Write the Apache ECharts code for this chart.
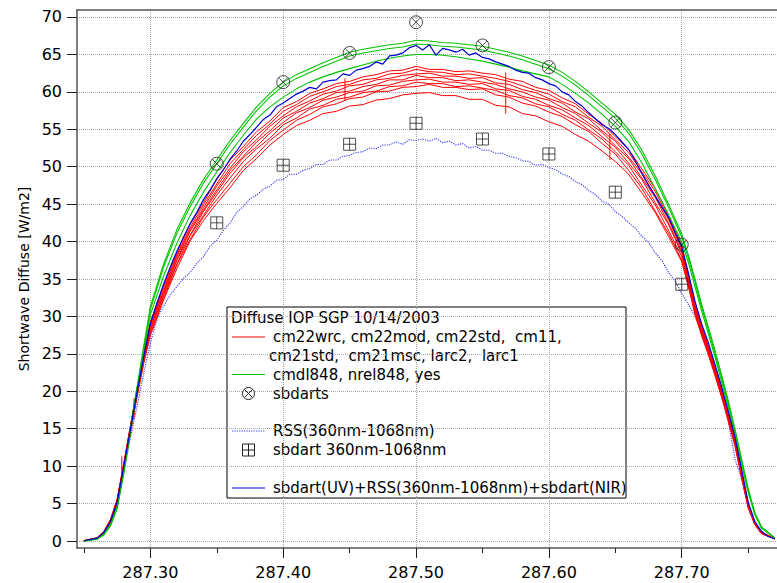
<!DOCTYPE html>
<html><head><meta charset="utf-8">
<script src="https://cdn.jsdelivr.net/npm/echarts@6/dist/echarts.min.js"></script>
<style>html,body{margin:0;padding:0;background:#fff}#c{width:777px;height:583px}</style>
</head><body><div id="c"></div>
<script>
// ---------- DATA ----------
const timesA = [287.25,287.26,287.265,287.27,287.275,287.28,287.285,287.29,287.295,
287.30,287.31,287.32,287.33,287.34,287.35,287.36,287.37,287.38,287.39,
287.40,287.41,287.42,287.43,287.44,287.45,287.46,287.47,287.48,287.49,
287.50,287.51,287.52,287.53,287.54,287.55,287.56,287.57,287.58,287.59,
287.60,287.61,287.62,287.63,287.64,287.65,287.66,287.67,287.68,287.69,287.70,
287.705,287.71,287.715,287.72,287.725,287.73,287.735,287.74,287.745,287.75,287.755,287.76,287.77];

const redNames = ['cm22wrc','cm22mod','cm22std','cm11','cm21std','cm21msc','larc2','larc1'];
const red1 = [0.05,0.45,1.3,2.9,5.6,10.4,15.4,20.4,25.0,
29.3,34.1,38.5,42.3,45.2,48.3,50.9,52.7,54.7,56.1,57.9,58.7,59.8,60.4,61.1,61.4,62.0,62.3,62.8,62.9,63.4,63.0,63.0,62.7,62.8,62.5,62.3,61.7,61.4,60.6,60.2,59.2,58.4,57.0,55.8,54.0,52.3,49.7,47.1,43.5,39.6,
35.4,31.6,28.7,26.1,23.3,20.3,17.0,13.6,9.3,5.0,2.5,1.2,0.3];
const red2 = [0.05,0.42,1.25,2.8,5.5,10.3,15.3,20.3,24.8,
29.0,33.8,38.2,41.9,44.9,47.7,50.4,52.3,54.2,55.7,57.4,58.3,59.4,60.0,60.7,61.0,61.6,61.8,62.4,62.5,63.0,62.7,62.6,62.3,62.4,62.1,61.8,61.4,60.8,60.2,59.7,58.7,58.0,56.6,55.4,53.6,51.9,49.3,46.7,43.2,39.3,
35.2,31.4,28.5,25.9,23.1,20.1,16.9,13.5,9.2,4.9,2.4,1.2,0.3];
const red3 = [0.04,0.40,1.2,2.75,5.4,10.2,15.2,20.1,24.7,
28.8,33.4,38.0,41.6,44.5,47.4,49.8,52.0,53.6,55.4,56.8,58.0,58.8,59.7,60.1,60.8,61.0,61.6,61.8,62.2,62.4,62.5,62.1,62.1,61.8,61.9,61.2,61.0,60.3,59.9,59.1,58.5,57.3,56.4,54.8,53.4,51.3,49.1,46.1,43.0,39.0,
35.0,31.2,28.3,25.7,22.9,19.9,16.7,13.4,9.1,4.8,2.4,1.1,0.3];
const red4 = [0.04,0.38,1.15,2.7,5.3,10.1,15.0,20.0,24.5,
28.5,33.3,37.6,41.4,44.2,46.9,49.5,51.4,53.3,54.8,56.5,57.4,58.5,59.1,59.9,60.1,60.7,61.0,61.6,61.6,62.2,61.9,61.9,61.5,61.6,61.3,61.0,60.4,60.0,59.3,58.9,57.9,57.1,55.8,54.6,52.8,51.1,48.5,45.9,42.5,38.7,
34.8,31.0,28.1,25.6,22.8,19.8,16.6,13.3,9.0,4.8,2.3,1.1,0.3];
const red5 = [0.04,0.36,1.1,2.65,5.2,10.0,14.9,19.8,24.3,
28.3,32.9,37.5,40.9,44.0,46.6,49.1,51.2,52.7,54.5,55.9,57.2,57.9,58.9,59.3,59.9,60.1,60.8,60.9,61.4,61.6,61.7,61.3,61.3,61.0,61.1,60.4,60.2,59.4,59.0,58.2,57.6,56.5,55.5,54.0,52.6,50.5,48.3,45.2,42.3,38.4,
34.6,30.8,27.9,25.4,22.6,19.6,16.5,13.2,8.9,4.7,2.3,1.1,0.3];
const red6 = [0.03,0.34,1.05,2.6,5.1,9.9,14.7,19.6,24.1,
28.0,32.8,37.0,40.8,43.5,46.2,48.5,50.7,52.4,53.8,55.6,56.5,57.7,58.2,59.0,59.3,59.9,60.1,60.7,60.8,61.3,61.1,61.1,60.7,60.8,60.5,60.2,59.5,59.2,58.4,58.0,57.0,56.2,54.9,53.7,52.0,50.2,47.5,44.9,41.5,38.0,
34.4,30.6,27.7,25.2,22.4,19.5,16.3,13.0,8.8,4.6,2.3,1.0,0.3];
const red7 = [0.03,0.32,1.0,2.5,5.0,9.7,14.5,19.4,23.9,
27.7,32.4,36.9,40.3,43.3,45.6,47.8,50.0,51.6,53.5,54.9,56.2,57.0,58.0,58.4,59.1,59.3,60.0,60.1,60.6,60.7,61.0,60.6,60.6,60.3,60.4,59.6,59.3,58.5,58.1,57.3,56.7,55.6,54.7,53.1,51.7,49.5,47.1,44.1,41.1,37.5,
34.1,30.4,27.5,25.0,22.2,19.3,16.2,12.9,8.6,4.5,2.2,1.0,0.3];
const red8 = [0.03,0.30,0.95,2.45,4.9,9.6,14.4,19.2,23.7,
27.4,32.2,36.4,40.1,42.8,45.1,47.2,49.5,51.1,52.9,54.3,55.5,56.2,57.1,57.4,58.1,58.3,58.9,59.1,59.6,59.8,59.9,59.5,59.5,59.0,59.0,58.2,58.0,57.1,56.8,56.0,55.4,54.3,53.4,52.1,50.7,49.0,46.5,43.9,40.7,37.3,
34.0,30.2,27.4,24.9,22.1,19.2,16.0,12.7,8.5,4.4,2.2,1.0,0.3];

const greenNames = ['cmdl848','nrel848','yes'];
const green1 = [0.02,0.3,0.9,2.2,4.6,9.4,15.0,20.6,26.0,
31.3,37.0,41.6,45.2,48.3,50.9,53.5,55.8,58.0,59.8,61.3,62.3,63.1,63.9,64.6,65.3,65.7,66.0,66.3,66.5,66.9,66.8,66.6,66.5,66.3,66.1,65.7,65.3,64.8,64.2,63.6,62.6,61.4,60.0,58.5,57.0,55.0,52.2,48.8,45.0,41.0,
38.2,35.0,31.6,28.6,25.5,22.2,18.8,15.0,11.0,7.0,3.8,1.9,0.4];
const green2 = [0.02,0.28,0.85,2.1,4.5,9.3,14.8,20.3,25.7,
30.9,36.6,41.1,44.7,47.8,50.4,53.0,55.3,57.5,59.3,60.8,61.8,62.6,63.4,64.1,64.8,65.2,65.5,65.8,66.0,66.4,66.3,66.1,66.0,65.8,65.6,65.2,64.8,64.3,63.7,63.1,62.1,60.9,59.5,58.0,56.5,54.5,51.7,48.3,44.6,40.6,
37.8,34.6,31.2,28.2,25.1,21.8,18.4,14.7,10.7,6.8,3.7,1.8,0.4];
const green3 = [0.02,0.25,0.8,2.0,4.3,9.0,14.4,19.9,25.2,
30.2,35.4,39.8,43.5,46.6,49.3,51.9,54.2,56.4,58.0,59.3,60.4,61.3,62.0,62.6,63.1,63.6,64.1,64.5,64.8,65.0,65.0,64.9,64.7,64.4,64.1,63.7,63.3,62.8,62.4,62.0,61.0,59.8,58.5,57.0,55.4,53.4,50.5,47.1,43.6,39.9,
37.2,34.0,30.7,27.7,24.6,21.3,17.9,14.3,10.3,6.5,3.5,1.7,0.4];

const timesFine = [287.25,287.26,287.265,287.27,287.275,287.28,287.285,287.29,287.295,
287.300,287.305,287.310,287.315,287.320,287.325,287.330,287.335,287.340,287.345,
287.350,287.355,287.360,287.365,287.370,287.375,287.380,287.385,287.390,287.395,
287.400,287.405,287.410,287.415,287.420,287.425,287.430,287.435,287.440,287.445,
287.450,287.455,287.460,287.465,287.470,287.475,287.480,287.485,287.490,287.495,
287.500,287.505,287.510,287.515,287.520,287.525,287.530,287.535,287.540,287.545,
287.550,287.555,287.560,287.565,287.570,287.575,287.580,287.585,287.590,287.595,
287.600,287.605,287.610,287.615,287.620,287.625,287.630,287.635,287.640,287.645,
287.650,287.655,287.660,287.665,287.670,287.675,287.680,287.685,287.690,287.695,
287.700,287.705,287.71,287.715,287.72,287.725,287.73,287.735,287.74,287.745,287.75,287.755,287.76,287.765,287.77];

const blueSum = [0.03,0.38,1.15,2.6,5.2,10.0,14.9,19.9,24.6,
29.0,31.8,34.3,36.6,38.7,40.6,42.4,43.9,45.6,46.9,
48.4,49.6,51.0,52.1,53.4,54.3,55.3,56.3,56.9,58.0,
58.5,59.1,59.7,60.1,60.6,60.4,61.3,61.5,61.6,62.4,
62.2,62.9,63.1,63.4,64.0,63.7,64.8,64.9,65.2,65.9,
66.2,65.6,66.3,64.9,65.8,65.6,65.3,65.7,64.9,65.2,
64.6,64.4,64.0,63.7,63.4,62.9,62.6,62.5,61.9,61.6,
61.1,60.8,60.0,59.6,58.7,58.1,57.2,56.4,55.6,55.1,
54.3,53.3,52.3,50.8,49.1,47.5,46.1,44.6,43.3,41.2,
39.3,35.8,32.0,29.0,26.5,23.6,20.6,17.3,13.9,9.6,5.2,2.6,1.3,0.6,0.3];

const rss = [0.02,0.3,0.9,2.2,4.5,9.0,13.8,18.0,22.4,
26.4,29.6,31.4,32.9,34.0,35.1,35.9,37.1,38.0,39.4,
40.2,41.5,42.5,43.9,44.7,45.7,46.2,47.0,47.4,48.2,
48.3,49.0,49.0,49.5,49.8,50.3,50.3,50.9,50.9,51.4,
51.5,51.9,52.0,52.5,52.4,52.9,52.9,53.3,53.0,53.6,
53.5,53.7,53.4,53.8,53.2,53.4,52.9,53.1,52.5,52.7,
52.2,52.2,51.8,51.8,51.4,51.2,50.8,50.7,50.2,50.3,
49.9,49.6,49.0,48.7,48.0,47.6,46.8,46.3,45.4,45.0,
44.0,43.4,42.5,41.8,40.7,39.9,38.5,37.5,35.9,34.7,
33.1,31.6,30.0,27.9,25.8,23.1,19.8,16.0,11.0,8.3,4.5,2.2,1.0,0.6,0.3];

const spikeTimes = [287.2785,287.2877,287.4465,287.5675,287.6459];
const spikeLow   = [8.4,16.4,58.8,57.1,50.9];
const spikeHigh  = [11.3,19.0,61.8,62.6,54.4];

const markTimes = [287.35,287.40,287.45,287.50,287.55,287.60,287.65,287.70];
const sbdarts   = [50.4,61.3,65.2,69.3,66.2,63.3,55.9,39.6];
const sbdart360 = [42.5,50.2,53.0,55.8,53.7,51.7,46.6,34.3];

const xTickValues = [287.30,287.40,287.50,287.60,287.70];
const xMinorTicks = [287.25,287.35,287.45,287.55,287.65,287.75];
const yTickValues = [0,5,10,15,20,25,30,35,40,45,50,55,60,65,70];

const yTitle = 'Shortwave Diffuse [W/m2]';
const legendTitle = 'Diffuse IOP SGP 10/14/2003';
const legendLabels = [
  'cm22wrc, cm22mod, cm22std,  cm11,',
  'cm21std,  cm21msc, larc2,  larc1',
  'cmdl848, nrel848, yes',
  'sbdarts',
  'RSS(360nm-1068nm)',
  'sbdart 360nm-1068nm',
  'sbdart(UV)+RSS(360nm-1068nm)+sbdart(NIR)'
];

// ---------- CHART ----------
const X_MIN = 287.2448, X_MAX = 287.7717, Y_MIN = -0.935, Y_MAX = 70.935;
const RED = '#ff0000', GREEN = '#00c400', BLUE = '#0000d4', RSSBLUE = '#3535ff';
const FONT = 'DejaVu Sans';
const zip = (t, v) => t.map((x, i) => [x, v[i]]);
const CIRCLE_X = 'path://M10,0A10,10,0,1,1,-10,0A10,10,0,1,1,10,0ZM-7.07,-7.07L7.07,7.07M7.07,-7.07L-7.07,7.07';
const SQUARE_PLUS = 'path://M-10,-10L10,-10L10,10L-10,10ZM0,-10L0,10M-10,0L10,0';

const spikeData = [];
spikeTimes.forEach((t, i) => { spikeData.push([t, spikeLow[i]], [t, spikeHigh[i]], [t, '-']); });

const series = [];
series.push({name:'RSS(360nm-1068nm)', type:'line', data: zip(timesFine, rss), showSymbol:false,
  lineStyle:{color:RSSBLUE, width:1.1, type:[1.2,1.2]}, z:2});
[red1,red2,red3,red4,red5,red6,red7,red8].forEach((arr, i) => series.push({
  name: redNames[i], type:'line', data: zip(timesA, arr), showSymbol:false,
  lineStyle:{color:RED, width:1}, z:3}));
series.push({name:'red spikes', type:'line', data: spikeData, showSymbol:false, connectNulls:false,
  lineStyle:{color:RED, width:1}, z:3});
[green1,green2,green3].forEach((arr, i) => series.push({
  name: greenNames[i], type:'line', data: zip(timesA, arr), showSymbol:false,
  lineStyle:{color:GREEN, width:1.1}, z:4}));
series.push({name:'sbdart(UV)+RSS(360nm-1068nm)+sbdart(NIR)', type:'line', data: zip(timesFine, blueSum), showSymbol:false,
  lineStyle:{color:BLUE, width:1.2}, z:5});
series.push({name:'sbdarts', type:'scatter', data: zip(markTimes, sbdarts), symbol:CIRCLE_X, symbolSize:13,
  itemStyle:{color:'rgba(0,0,0,0)', borderColor:'#222', borderWidth:1}, z:6});
series.push({name:'sbdart 360nm-1068nm', type:'scatter', data: zip(markTimes, sbdart360), symbol:SQUARE_PLUS, symbolSize:12,
  itemStyle:{color:'rgba(0,0,0,0)', borderColor:'#222', borderWidth:1}, z:6});

// legend drawn as graphic
const LX = 227, LY = 307, LW = 399, LH = 191, TX = 273;
const rowY = [337, 356, 374.5, 393.5, 431, 450, 488];
const txt = (s, x, y) => ({type:'text', x:x, y:y, style:{text:s, fill:'#000', fontSize:15, fontFamily:FONT, verticalAlign:'middle', align:'left'}});
const seg = (y, color, dash) => ({type:'line', shape:{x1:232, y1:y, x2:265, y2:y}, style:{stroke:color, lineWidth:1, lineDash: dash || null}});
const cx = 248.5;
const legendEls = [
  {type:'rect', shape:{x:LX, y:LY, width:LW, height:LH}, style:{fill:'#fff', stroke:'#000', lineWidth:1}},
  txt(legendTitle, 231, 318),
  seg(rowY[0], RED), txt(legendLabels[0], TX, rowY[0]),
  txt(legendLabels[1], TX - 4, rowY[1]),
  seg(rowY[2], GREEN), txt(legendLabels[2], TX, rowY[2]),
  {type:'circle', shape:{cx:cx, cy:rowY[3], r:6}, style:{fill:'none', stroke:'#222', lineWidth:1}},
  {type:'line', shape:{x1:cx-4.2, y1:rowY[3]-4.2, x2:cx+4.2, y2:rowY[3]+4.2}, style:{stroke:'#222', lineWidth:1}},
  {type:'line', shape:{x1:cx+4.2, y1:rowY[3]-4.2, x2:cx-4.2, y2:rowY[3]+4.2}, style:{stroke:'#222', lineWidth:1}},
  txt(legendLabels[3], TX, rowY[3]),
  seg(rowY[4], RSSBLUE, [1.2,1.2]), txt(legendLabels[4], TX, rowY[4]),
  {type:'rect', shape:{x:cx-6, y:rowY[5]-6, width:12, height:12}, style:{fill:'none', stroke:'#222', lineWidth:1}},
  {type:'line', shape:{x1:cx, y1:rowY[5]-6, x2:cx, y2:rowY[5]+6}, style:{stroke:'#222', lineWidth:1}},
  {type:'line', shape:{x1:cx-6, y1:rowY[5], x2:cx+6, y2:rowY[5]}, style:{stroke:'#222', lineWidth:1}},
  txt(legendLabels[5], TX, rowY[5]),
  seg(rowY[6], BLUE), txt(legendLabels[6], TX, rowY[6])
];

const gridLine = {show:true, lineStyle:{color:'#a8a8a8', width:1, type:[1,1]}};
const option = {
  animation: false,
  backgroundColor: '#fff',
  grid: {left:77, right:0, top:10, bottom:35, containLabel:false, outerBoundsMode:'none'},
  xAxis: [
    {type:'value', min:X_MIN, max:X_MAX, position:'bottom',
     axisLine:{show:true, onZero:false, lineStyle:{color:'#555', width:1.5}},
     axisTick:{show:true, customValues:xTickValues, length:10, lineStyle:{color:'#222', width:1}},
     axisLabel:{show:true, customValues:xTickValues, formatter:(v)=>Number(v).toFixed(2), fontSize:16, fontFamily:FONT, color:'#000', margin:16},
     splitLine:gridLine},
    {type:'value', min:X_MIN, max:X_MAX, position:'bottom',
     axisLine:{show:false, onZero:false},
     axisTick:{show:true, customValues:xMinorTicks, length:5, lineStyle:{color:'#222', width:1}},
     axisLabel:{show:false}, splitLine:{show:false}},
    {type:'value', min:X_MIN, max:X_MAX, position:'top',
     axisLine:{show:true, onZero:false, lineStyle:{color:'#555', width:1.5}},
     axisTick:{show:false}, axisLabel:{show:false}, splitLine:{show:false}}
  ],
  yAxis: {type:'value', min:Y_MIN, max:Y_MAX,
     axisLine:{show:true, onZero:false, lineStyle:{color:'#555', width:1.5}},
     axisTick:{show:true, customValues:yTickValues, length:10, lineStyle:{color:'#222', width:1}},
     axisLabel:{show:true, customValues:yTickValues, fontSize:16, fontFamily:FONT, color:'#000', margin:15},
     splitLine:gridLine,
     name:yTitle, nameLocation:'middle', nameGap:46,
     nameTextStyle:{fontSize:14, fontFamily:FONT, color:'#000'}},
  series: series,
  graphic: {elements: [{type:'group', z:100, children: legendEls}]}
};
const chart = echarts.init(document.getElementById('c'), null, {renderer:'svg', width:777, height:583});
chart.setOption(option);
</script>
</body></html>
